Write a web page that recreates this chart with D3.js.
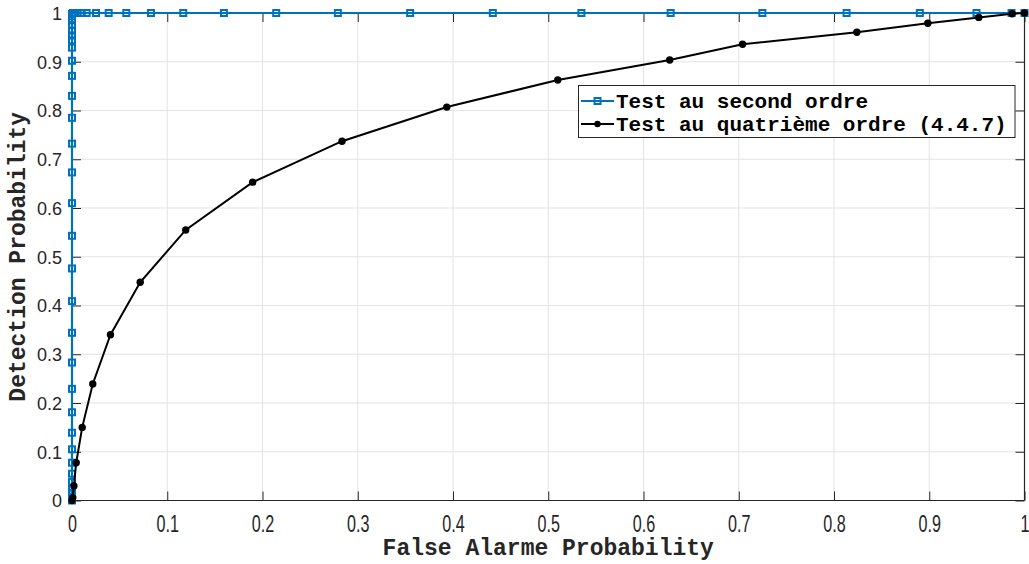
<!DOCTYPE html>
<html>
<head>
<meta charset="utf-8">
<script src="https://cdn.jsdelivr.net/npm/d3@7"></script>
<style>
  html, body { margin: 0; padding: 0; background: #fff; }
  svg { display: block; }
</style>
</head>
<body>
<svg id="chart" width="1029" height="564"></svg>
<script>
// ---- data ----
const xTicks = [0, 0.1, 0.2, 0.3, 0.4, 0.5, 0.6, 0.7, 0.8, 0.9, 1];
const yTicks = [0, 0.1, 0.2, 0.3, 0.4, 0.5, 0.6, 0.7, 0.8, 0.9, 1];
const xTickLabels = ["0", "0.1", "0.2", "0.3", "0.4", "0.5", "0.6", "0.7", "0.8", "0.9", "1"];
const yTickLabels = ["0", "0.1", "0.2", "0.3", "0.4", "0.5", "0.6", "0.7", "0.8", "0.9", "1"];

const seriesNames = ["Test au second ordre", "Test au quatrième ordre (4.4.7)"];

// second-order test
const secondFA = [0, 0, 0, 0, 0, 0, 0, 0, 0, 0, 0, 0, 0, 0, 0, 0, 0, 0, 0, 0, 0, 0, 0, 0, 0, 0, 0, 0, 0, 0, 0, 0,
  0.001, 0.003, 0.006, 0.0102, 0.0154, 0.0252, 0.0385, 0.057, 0.0829, 0.1168, 0.1595, 0.2144, 0.2791,
  0.355, 0.4418, 0.5348, 0.6285, 0.7248, 0.8132, 0.8901, 0.9496, 0.9864, 1];
const secondPd = [0, 0.003, 0.008, 0.016, 0.026, 0.038, 0.055, 0.0775, 0.105, 0.139, 0.181, 0.229, 0.283,
  0.344, 0.409, 0.476, 0.543, 0.610, 0.673, 0.732, 0.785, 0.830, 0.871, 0.902, 0.929, 0.944, 0.954,
  0.964, 0.975, 0.985, 0.993, 0.998,
  1, 1, 1, 1, 1, 1, 1, 1, 1, 1, 1, 1, 1, 1, 1, 1, 1, 1, 1, 1, 1, 1, 1];

// fourth-order test (4.4.7)
const fourthFA = [0, 0.0008, 0.002, 0.0044, 0.0107, 0.0218, 0.0404, 0.0716, 0.1194, 0.1897, 0.2835,
  0.3935, 0.51, 0.6275, 0.704, 0.824, 0.8985, 0.952, 0.987, 1];
const fourthPd = [0, 0.006, 0.030, 0.0775, 0.150, 0.239, 0.340, 0.4476, 0.555, 0.653, 0.737,
  0.807, 0.8626, 0.9036, 0.936, 0.9604, 0.979, 0.991, 0.9985, 1];

const xTitle = "False Alarme Probability";
const yTitle = "Detection Probability";

// ---- layout ----
const L = 72, R = 1024.5, T = 13, B = 500.5;
const axisColor = "#262626";
const blue = "#0072BD";
const monoFont = "'Courier New', Courier, 'Nimbus Mono PS', 'FreeMono', 'Liberation Mono', monospace";

const svg = d3.select("#chart");
const x = d3.scaleLinear().domain([0, 1]).range([L, R]);
const y = d3.scaleLinear().domain([0, 1]).range([B, T]);

// grid
const grid = svg.append("g");
grid.selectAll("line.vx").data(xTicks).enter().append("line")
  .attr("x1", d => x(d)).attr("x2", d => x(d)).attr("y1", T).attr("y2", B)
  .attr("stroke", "#e3e3e3").attr("stroke-width", 1);
grid.selectAll("line.hy").data(yTicks).enter().append("line")
  .attr("x1", L).attr("x2", R).attr("y1", d => y(d)).attr("y2", d => y(d))
  .attr("stroke", "#e3e3e3").attr("stroke-width", 1);

// axes (box with inward ticks)
const tickLen = 9;
const bottomAxis = d3.axisBottom(x).tickValues(xTicks).tickSize(-tickLen).tickFormat((d, i) => xTickLabels[i]);
const topAxis = d3.axisTop(x).tickValues(xTicks).tickSize(-tickLen).tickFormat("");
const leftAxis = d3.axisLeft(y).tickValues(yTicks).tickSize(-tickLen).tickFormat((d, i) => yTickLabels[i]).tickPadding(10);
const rightAxis = d3.axisRight(y).tickValues(yTicks).tickSize(-tickLen).tickFormat("");

function styleAxis(g) {
  g.attr("font-size", null).attr("font-family", null);
  g.select(".domain").attr("stroke", axisColor).attr("stroke-width", 1.2);
  g.selectAll(".tick line").attr("stroke", axisColor).attr("stroke-width", 1);
  g.selectAll("text").attr("fill", axisColor)
    .style("font-family", "'Liberation Sans', Arial, sans-serif");
}

const gb = svg.append("g").attr("transform", `translate(0,${B})`).call(bottomAxis).call(styleAxis);
gb.select(".domain").attr("d", `M${L},0H${R}`);
gb.selectAll(".tick text").style("font-size", "19px").attr("dy", 0).attr("y", 0)
  .attr("transform", "translate(0,31) scale(0.85,1.3)");
const gt = svg.append("g").attr("transform", `translate(0,${T})`).call(topAxis).call(styleAxis);
gt.select(".domain").attr("d", `M${L},0H${R}`);
const gl = svg.append("g").attr("transform", `translate(${L},0)`).call(leftAxis).call(styleAxis);
gl.select(".domain").attr("d", `M0,${T}V${B}`);
gl.selectAll(".tick text").style("font-size", "18px").attr("dy", "0.36em");
const gr = svg.append("g").attr("transform", `translate(${R},0)`).call(rightAxis).call(styleAxis);
gr.select(".domain").attr("d", `M0,${T}V${B}`);

// series
const second = secondFA.map((v, i) => [v, secondPd[i]]);
const fourth = fourthFA.map((v, i) => [v, fourthPd[i]]);
const line = d3.line().x(d => x(d[0])).y(d => y(d[1]));

svg.append("path").datum(second).attr("d", line)
  .attr("fill", "none").attr("stroke", blue).attr("stroke-width", 2.2);
svg.append("g").selectAll("rect").data(second).enter().append("rect")
  .attr("x", d => x(d[0]) - 3).attr("y", d => y(d[1]) - 3)
  .attr("width", 6).attr("height", 6)
  .attr("fill", "none").attr("stroke", blue).attr("stroke-width", 2);

svg.append("path").datum(fourth).attr("d", line)
  .attr("fill", "none").attr("stroke", "#000").attr("stroke-width", 2);
svg.append("g").selectAll("circle").data(fourth).enter().append("circle")
  .attr("cx", d => x(d[0])).attr("cy", d => y(d[1])).attr("r", 3.7)
  .attr("fill", "#000");

// axis titles
svg.append("text").attr("x", (L + R) / 2).attr("y", 555)
  .attr("text-anchor", "middle").style("font-family", monoFont)
  .attr("font-weight", "bold").attr("font-size", 23).attr("fill", axisColor).text(xTitle);
svg.append("text").attr("transform", `translate(25,${(T + B) / 2}) rotate(-90)`)
  .attr("text-anchor", "middle").style("font-family", monoFont)
  .attr("font-weight", "bold").attr("font-size", 23).attr("fill", axisColor).text(yTitle);

// legend
const lg = svg.append("g");
lg.append("rect").attr("x", 578.5).attr("y", 85.5).attr("width", 436.5).attr("height", 52)
  .attr("fill", "#fff").attr("stroke", axisColor).attr("stroke-width", 1);
const rows = [
  { name: seriesNames[0], color: blue, kind: "square", yy: 101 },
  { name: seriesNames[1], color: "#000", kind: "circle", yy: 124 }
];
rows.forEach(r => {
  lg.append("line").attr("x1", 581).attr("x2", 614).attr("y1", r.yy).attr("y2", r.yy)
    .attr("stroke", r.color).attr("stroke-width", 2);
  if (r.kind === "square") {
    lg.append("rect").attr("x", 594.5).attr("y", r.yy - 3).attr("width", 6).attr("height", 6)
      .attr("fill", "none").attr("stroke", r.color).attr("stroke-width", 2);
  } else {
    lg.append("circle").attr("cx", 597.5).attr("cy", r.yy).attr("r", 3.2).attr("fill", r.color);
  }
  lg.append("text").attr("x", 616).attr("y", r.yy).attr("dy", "0.35em")
    .style("font-family", monoFont).attr("font-weight", "bold")
    .attr("font-size", 21).attr("fill", "#000").text(r.name);
});
</script>
</body>
</html>
